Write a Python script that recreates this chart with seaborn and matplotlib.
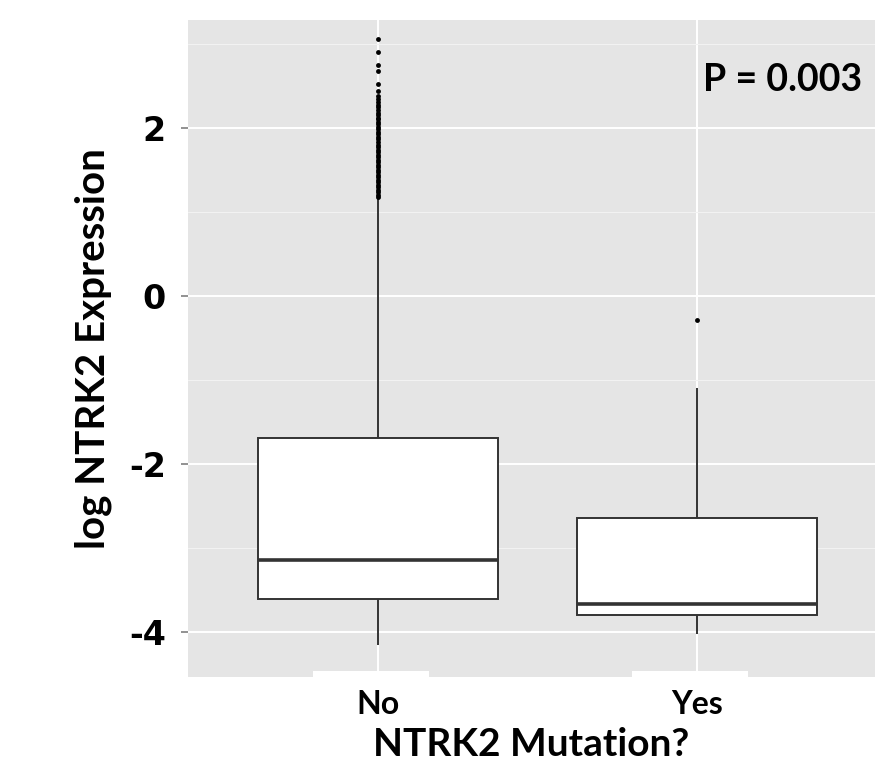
import numpy as np
import pandas as pd
import matplotlib.pyplot as plt
import seaborn as sns
from matplotlib.patches import Rectangle
from matplotlib.ticker import MultipleLocator

# 数据：箱体部分（不含离群点）
groups = ["No", "Yes"]
no_values = [-4.15, -3.85, -3.60, -3.40, -3.14, -2.55, -1.69, -0.60, 1.16]
yes_values = [-4.02, -3.90, -3.79, -3.72, -3.66, -3.20, -2.64, -1.85, -1.09]

# 离群点
no_outliers = [3.05, 2.895, 2.75, 2.67, 2.52, 2.435, 2.38, 2.34, 2.31, 2.27, 2.24,
               2.21, 2.18, 2.15, 2.12, 2.10, 2.07, 2.04, 2.01, 1.98, 1.95, 1.92,
               1.89, 1.86, 1.83, 1.80, 1.77, 1.74, 1.71, 1.68, 1.65, 1.62, 1.59,
               1.56, 1.53, 1.50, 1.47, 1.44, 1.41, 1.38, 1.35, 1.32, 1.29, 1.26,
               1.23, 1.20, 1.18]
yes_outliers = [-0.285]

p_text = "P = 0.003"

df = pd.DataFrame({
    "group": ["No"] * len(no_values) + ["Yes"] * len(yes_values),
    "value": no_values + yes_values,
})
df_out = pd.DataFrame({
    "group": ["No"] * len(no_outliers) + ["Yes"] * len(yes_outliers),
    "value": no_outliers + yes_outliers,
})

sns.set_theme(style="darkgrid")
plt.rcParams["axes.unicode_minus"] = False
plt.rcParams["font.family"] = ["Lato", "DejaVu Sans"]

fig = plt.figure(figsize=(8.75, 7.68), dpi=100)
ax = fig.add_axes([188 / 875, 91 / 768, 687 / 875, 657 / 768])
ax.set_facecolor("#E5E5E5")

sns.boxplot(data=df, x="group", y="value", order=groups, width=0.75,
            color="white", saturation=1, linecolor="#333333", linewidth=1.4,
            showfliers=False, showcaps=False,
            medianprops={"linewidth": 2.6, "color": "#333333"}, ax=ax)
sns.stripplot(data=df_out, x="group", y="value", order=groups, jitter=False,
              color="black", size=3.5, linewidth=0, ax=ax)

ax.set_xlim(-0.596, 1.558)
ax.set_ylim(-4.53, 3.28)
ax.set_yticks([-4, -2, 0, 2])
ax.yaxis.set_minor_locator(MultipleLocator(1))
ax.grid(which="major", color="white", linewidth=1.4)
ax.grid(which="minor", axis="y", color="#F2F2F2", linewidth=0.8)
ax.set_axisbelow(True)
for s in ax.spines.values():
    s.set_visible(False)

ax.tick_params(axis="y", which="major", length=5, width=1.2, color="#7F7F7F",
               pad=11, left=True)
ax.tick_params(axis="y", which="minor", length=0)
ax.tick_params(axis="x", length=0, pad=9)
for lab in ax.get_yticklabels():
    lab.set_fontfamily("DejaVu Sans")
    lab.set_fontweight("bold")
    lab.set_fontsize(24)
    lab.set_color("black")
for lab in ax.get_xticklabels():
    lab.set_fontweight("bold")
    lab.set_fontsize(23)
    lab.set_color("black")

ax.set_xlabel("NTRK2 Mutation?", fontsize=28, fontweight="bold", color="black", labelpad=6)
ax.set_ylabel("log NTRK2 Expression", fontsize=29, fontweight="bold", color="black", labelpad=12)

# 刻度标签上方的白色小块
trans = ax.get_xaxis_transform()
for i in range(len(groups)):
    ax.add_patch(Rectangle((i - 0.205, 0), 0.365, 0.009, transform=trans,
                           facecolor="white", edgecolor="none", zorder=3))

ax.text(0.981, 0.909, p_text, transform=ax.transAxes, ha="right", va="center",
        fontsize=27, fontweight="bold", color="black")

fig.savefig("out.png", dpi=100, facecolor="white")
